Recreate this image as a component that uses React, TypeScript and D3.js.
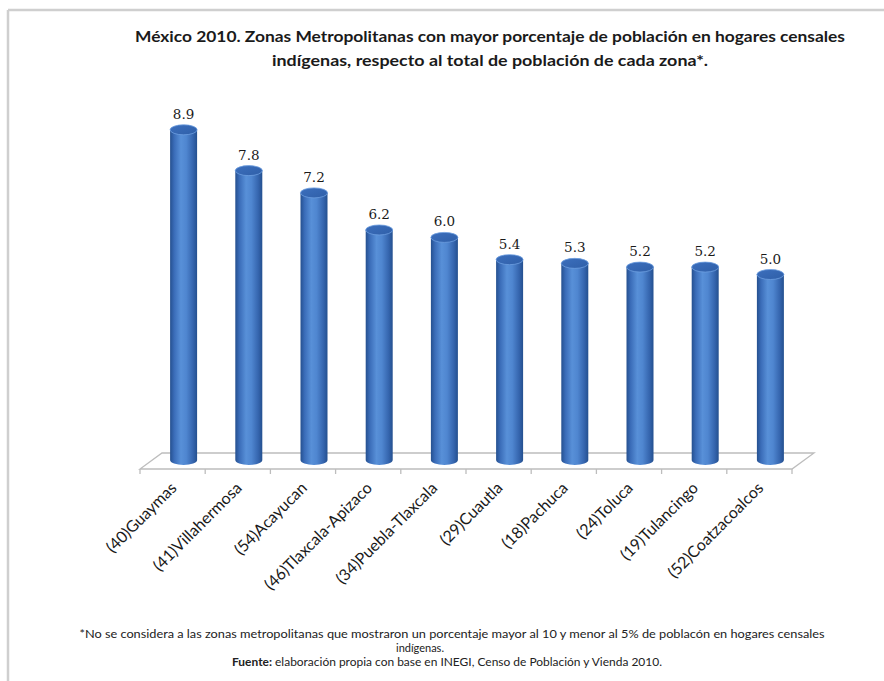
import React from "react";
import * as d3 from "d3";

const categories = [
  "(40)Guaymas",
  "(41)Villahermosa",
  "(54)Acayucan",
  "(46)Tlaxcala-Apizaco",
  "(34)Puebla-Tlaxcala",
  "(29)Cuautla",
  "(18)Pachuca",
  "(24)Toluca",
  "(19)Tulancingo",
  "(52)Coatzacoalcos",
];
const values = [8.9, 7.8, 7.2, 6.2, 6.0, 5.4, 5.3, 5.2, 5.2, 5.0];

const titleLines = [
  "México 2010. Zonas Metropolitanas con mayor porcentaje de población en hogares censales",
  "indígenas, respecto al total de población de cada zona*.",
];
const noteLine1 =
  "*No se considera a las zonas metropolitanas que mostraron un porcentaje mayor al 10  y  menor al 5%  de poblacón en hogares censales";
const noteLine2 = "indígenas.";
const sourceBold = "Fuente:";
const sourceRest = " elaboración propia con base en INEGI,  Censo de Población y Vienda 2010.";

const W = 884;
const H = 681;

export default function App() {
  const frontLeft = 140;
  const frontRight = 792;
  const floorY = 469;
  const depthX = 22;
  const depthY = -16;

  const x = d3.scaleBand<string>().domain(categories).range([frontLeft, frontRight]).padding(0);
  const y = d3.scaleLinear().domain([0, 10]).range([460, 89]);

  const barRx = 13.5;
  const barRy = 5;
  const barShift = depthX / 2;

  const ticks = categories.map((c) => x(c)!).concat([frontRight]);

  const labelFont = "Lato, 'Open Sans', sans-serif";
  const titleLengths = [710, 436];

  return (
    <svg
      width={W}
      height={H}
      style={{ position: "absolute", left: 0, top: 0, background: "#fff" }}
    >
      <defs>
        <linearGradient id="cyl" x1="0" x2="1" y1="0" y2="0">
          <stop offset="0%" stopColor="#25508f" />
          <stop offset="15%" stopColor="#3a6cb8" />
          <stop offset="40%" stopColor="#5890d8" />
          <stop offset="60%" stopColor="#4f86d0" />
          <stop offset="85%" stopColor="#3565ae" />
          <stop offset="100%" stopColor="#24508f" />
        </linearGradient>
        <linearGradient id="cap" x1="0" x2="1" y1="0" y2="1">
          <stop offset="0%" stopColor="#3c6fbd" />
          <stop offset="100%" stopColor="#2f5fa8" />
        </linearGradient>
      </defs>

      {/* frame */}
      <line x1={8} y1={10} x2={W} y2={10} stroke="#cfcfcf" strokeWidth={2.5} />
      <line x1={8} y1={10} x2={8} y2={H} stroke="#cfcfcf" strokeWidth={2.5} />

      {/* title */}
      {titleLines.map((t, i) => (
        <text
          key={i}
          x={490}
          y={42 + i * 24}
          textAnchor="middle"
          fontFamily={labelFont}
          fontWeight="bold"
          fontSize={16}
          fill="#1a1a1a"
          textLength={titleLengths[i]}
          lengthAdjust="spacingAndGlyphs"
        >
          {t}
        </text>
      ))}

      {/* floor */}
      <path
        d={`M${frontLeft},${floorY} L${frontRight},${floorY} L${frontRight + depthX},${floorY + depthY} L${frontLeft + depthX},${floorY + depthY} Z`}
        fill="#fff"
        stroke="#bdbdbd"
        strokeWidth={1.3}
      />
      {ticks.map((t, i) => (
        <line key={i} x1={t} x2={t} y1={floorY} y2={floorY + 5} stroke="#bdbdbd" strokeWidth={1.3} />
      ))}

      {/* bars */}
      {categories.map((c, i) => {
        const cx = x(c)! + x.bandwidth() / 2 + barShift;
        const y0 = y(0);
        const y1 = y(values[i]);
        return (
          <g key={c}>
            <path
              d={`M${cx - barRx},${y1} L${cx - barRx},${y0} A${barRx},${barRy} 0 0 0 ${cx + barRx},${y0} L${cx + barRx},${y1} Z`}
              fill="url(#cyl)"
            />
            <ellipse cx={cx} cy={y1} rx={barRx} ry={barRy} fill="url(#cap)" stroke="#6d9ee0" strokeWidth={0.8} />
            <text
              x={cx}
              y={y1 - 11}
              textAnchor="middle"
              fontFamily="'DejaVu Serif', serif"
              fontSize={13.5}
              fill="#1a1a1a"
            >
              {values[i].toFixed(1)}
            </text>
          </g>
        );
      })}

      {/* category labels */}
      {categories.map((c) => {
        const lx = x(c)! + x.bandwidth() / 2 + 5;
        const ly = 489;
        return (
          <text
            key={c}
            transform={`translate(${lx},${ly}) rotate(-45)`}
            textAnchor="end"
            fontFamily={labelFont}
            fontSize={16}
            fill="#1a1a1a"
          >
            {c}
          </text>
        );
      })}

      {/* footnote */}
      <text
        x={452}
        y={638}
        textAnchor="middle"
        fontFamily={labelFont}
        fontSize={11}
        fill="#222"
        textLength={745}
        lengthAdjust="spacingAndGlyphs"
      >
        {noteLine1}
      </text>
      <text x={420} y={652} textAnchor="middle" fontFamily={labelFont} fontSize={11} fill="#222">
        {noteLine2}
      </text>
      <text
        x={447}
        y={666}
        textAnchor="middle"
        fontFamily={labelFont}
        fontSize={11}
        fill="#222"
        textLength={430}
        lengthAdjust="spacingAndGlyphs"
      >
        <tspan fontWeight="bold">{sourceBold}</tspan>
        <tspan>{sourceRest}</tspan>
      </text>
    </svg>
  );
}
